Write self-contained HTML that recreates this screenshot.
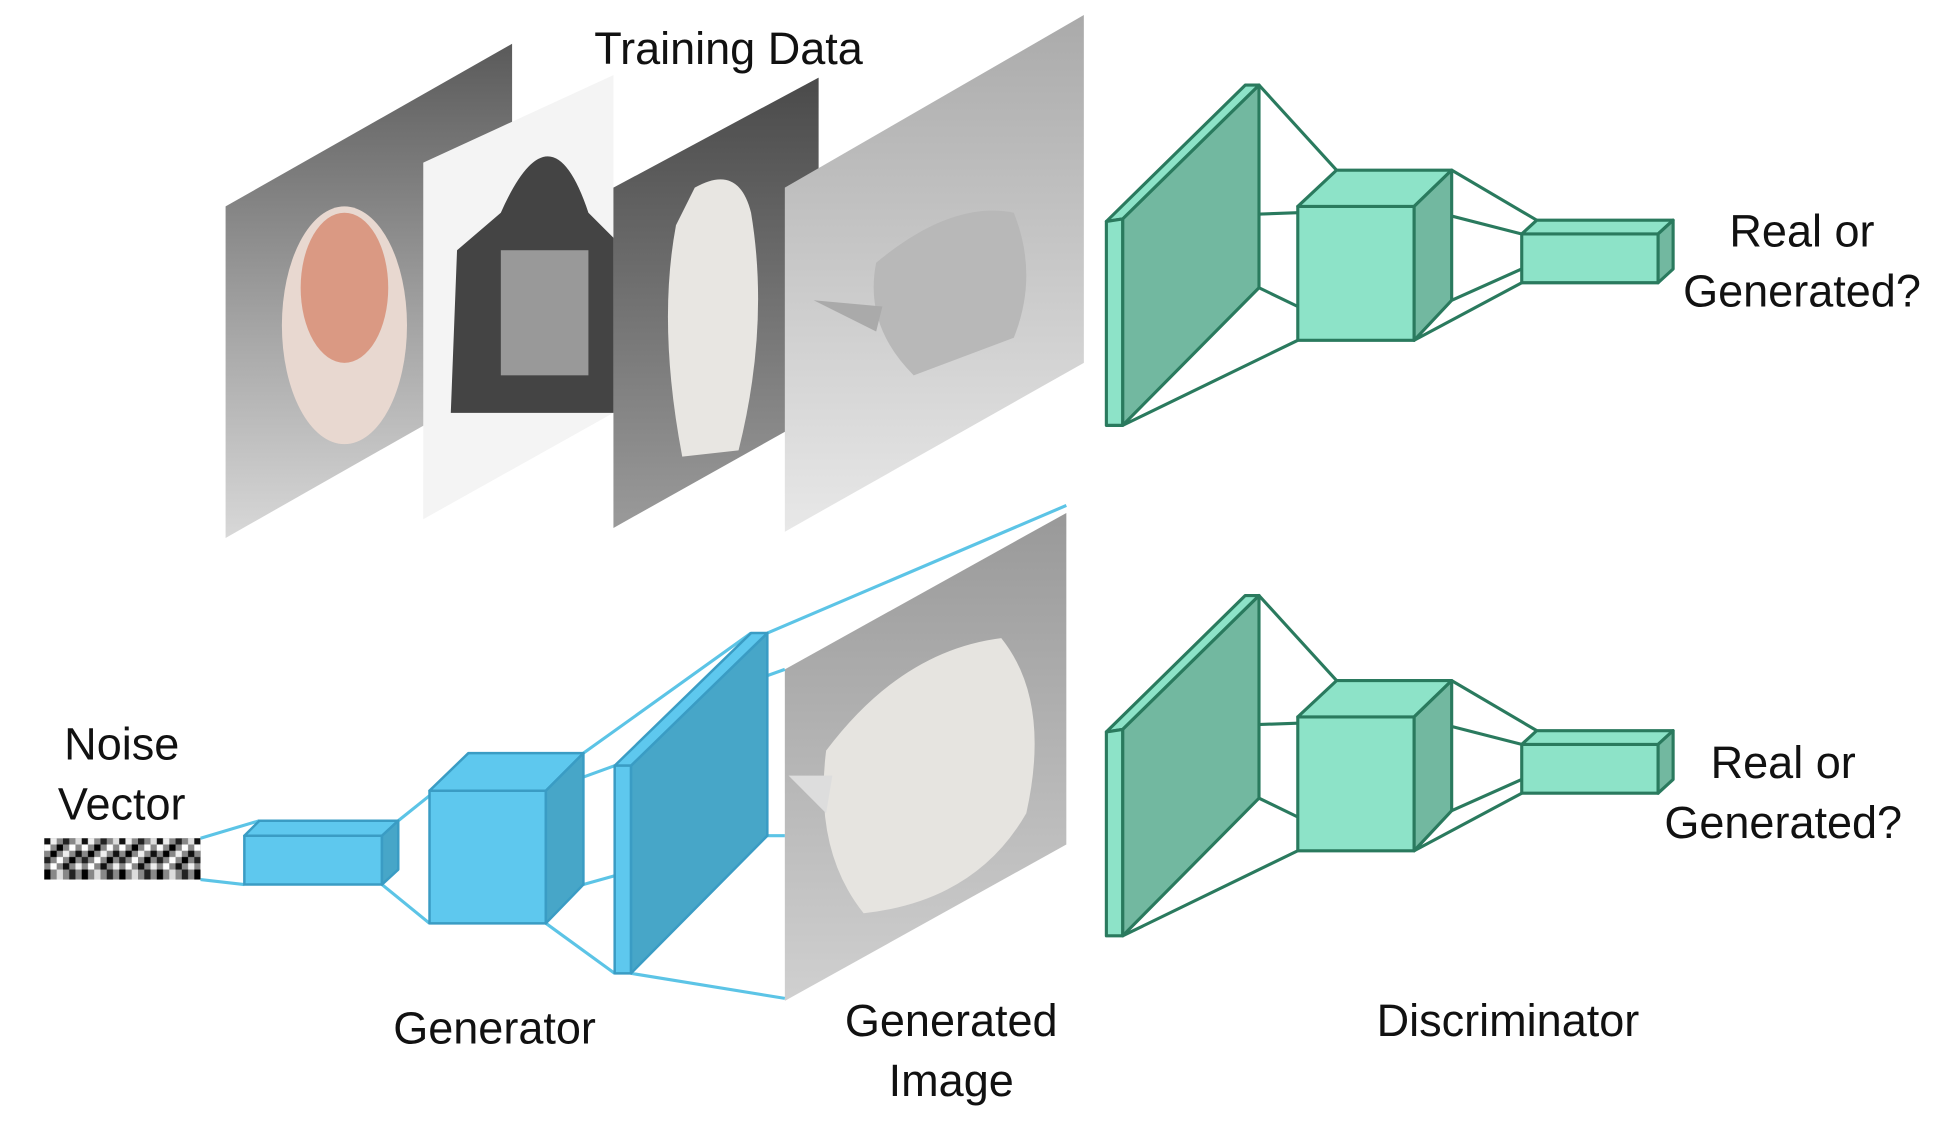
<!DOCTYPE html>
<html><head><meta charset="utf-8"><style>
html,body{margin:0;padding:0;background:#fff;}
svg{display:block;}
text{font-family:"Liberation Sans",sans-serif;font-size:36px;fill:#111;text-anchor:middle;}
</style></head><body>
<svg width="1945" height="1131" viewBox="0 0 1554 904" xmlns="http://www.w3.org/2000/svg">
<defs>
<linearGradient id="g1" x1="0" y1="0" x2="0" y2="1"><stop offset="0" stop-color="#5a5a5a"/><stop offset="0.6" stop-color="#a8a8a8"/><stop offset="1" stop-color="#d8d8d8"/></linearGradient>
<linearGradient id="g3" x1="0" y1="0" x2="0" y2="1"><stop offset="0" stop-color="#4a4a4a"/><stop offset="1" stop-color="#9a9a9a"/></linearGradient>
<linearGradient id="g4" x1="0" y1="0" x2="0" y2="1"><stop offset="0" stop-color="#aaaaaa"/><stop offset="1" stop-color="#e8e8e8"/></linearGradient>
<linearGradient id="g5" x1="0" y1="0" x2="0" y2="1"><stop offset="0" stop-color="#999"/><stop offset="1" stop-color="#d0d0d0"/></linearGradient>
<pattern id="np" x="35" y="670" width="30" height="33" patternUnits="userSpaceOnUse">
<rect width="30" height="33" fill="#888"/>
<rect x="0" y="0" width="5" height="5" fill="#111"/><rect x="5" y="0" width="5" height="5" fill="#eee"/><rect x="15" y="0" width="5" height="5" fill="#222"/><rect x="25" y="0" width="5" height="5" fill="#ddd"/>
<rect x="0" y="5" width="5" height="5" fill="#fff"/><rect x="10" y="5" width="5" height="5" fill="#000"/><rect x="20" y="5" width="5" height="5" fill="#fff"/>
<rect x="5" y="10" width="5" height="5" fill="#000"/><rect x="15" y="10" width="5" height="5" fill="#eee"/><rect x="25" y="10" width="5" height="5" fill="#111"/>
<rect x="0" y="15" width="5" height="5" fill="#222"/><rect x="10" y="15" width="5" height="5" fill="#fff"/><rect x="20" y="15" width="5" height="5" fill="#000"/>
<rect x="5" y="20" width="5" height="5" fill="#fff"/><rect x="15" y="20" width="5" height="5" fill="#111"/><rect x="25" y="20" width="5" height="5" fill="#eee"/>
<rect x="0" y="25" width="5" height="8" fill="#000"/><rect x="10" y="25" width="5" height="8" fill="#ddd"/><rect x="20" y="25" width="5" height="8" fill="#222"/>
</pattern>
</defs>
<text x="582" y="51">Training Data</text>
<polygon points="180,165 409,35 409,300 180,430" fill="url(#g1)"/>
<ellipse cx="275" cy="260" rx="50" ry="95" fill="#e8d8d0"/>
<ellipse cx="275" cy="230" rx="35" ry="60" fill="#d07050" opacity="0.6"/>
<polygon points="338,130 490,60 490,330 338,415" fill="#f4f4f4"/>
<path d="M400,170 Q440,80 470,170 L490,190 L490,330 L360,330 L365,200 Z" fill="#444"/>
<rect x="400" y="200" width="70" height="100" fill="#999"/>
<polygon points="490,150 654,62 654,330 490,422" fill="url(#g3)"/>
<path d="M555,150 Q590,130 600,170 Q615,260 590,360 L545,365 Q525,260 540,180 Z" fill="#e8e6e2"/>
<polygon points="627,150 866,12 866,290 627,425" fill="url(#g4)"/>
<path d="M700,210 Q760,160 810,170 Q830,220 810,270 L730,300 Q690,260 700,210 Z" fill="#b8b8b8"/>
<path d="M650,240 L705,245 L700,265 Z" fill="#aaa"/>

<g stroke="#2a7a5e" stroke-width="2.5" stroke-linejoin="round">
<line x1="1006" y1="68" x2="1068" y2="136"/><line x1="897" y1="175" x2="1037" y2="170"/>
<line x1="1006" y1="230" x2="1037" y2="245"/><line x1="897" y1="340" x2="1037" y2="272"/>
<line x1="1160" y1="136" x2="1228" y2="176"/><line x1="1130" y1="165" x2="1216" y2="187"/>
<line x1="1160" y1="240" x2="1216" y2="215"/><line x1="1130" y1="272" x2="1216" y2="226"/>
<polygon points="897,175 1006,68 1006,230 897,340" fill="#72b8a0"/>
<polygon points="884,177 995,68 1006,68 897,175" fill="#8de3c8"/>
<polygon points="884,177 897,175 897,340 884,340" fill="#8de3c8"/>
<polygon points="1037,165 1130,165 1130,272 1037,272" fill="#8de3c8"/>
<polygon points="1037,165 1068,136 1160,136 1130,165" fill="#8de3c8"/>
<polygon points="1130,165 1160,136 1160,240 1130,272" fill="#72b8a0"/>
<polygon points="1216,187 1325,187 1325,226 1216,226" fill="#8de3c8"/>
<polygon points="1216,187 1228,176 1337,176 1325,187" fill="#8de3c8"/>
<polygon points="1325,187 1337,176 1337,215 1325,226" fill="#72b8a0"/>
</g>
<text x="1440" y="197">Real or</text>
<text x="1440" y="245">Generated?</text>

<g transform="translate(0,408)" stroke="#2a7a5e" stroke-width="2.5" stroke-linejoin="round">
<line x1="1006" y1="68" x2="1068" y2="136"/><line x1="897" y1="175" x2="1037" y2="170"/>
<line x1="1006" y1="230" x2="1037" y2="245"/><line x1="897" y1="340" x2="1037" y2="272"/>
<line x1="1160" y1="136" x2="1228" y2="176"/><line x1="1130" y1="165" x2="1216" y2="187"/>
<line x1="1160" y1="240" x2="1216" y2="215"/><line x1="1130" y1="272" x2="1216" y2="226"/>
<polygon points="897,175 1006,68 1006,230 897,340" fill="#72b8a0"/>
<polygon points="884,177 995,68 1006,68 897,175" fill="#8de3c8"/>
<polygon points="884,177 897,175 897,340 884,340" fill="#8de3c8"/>
<polygon points="1037,165 1130,165 1130,272 1037,272" fill="#8de3c8"/>
<polygon points="1037,165 1068,136 1160,136 1130,165" fill="#8de3c8"/>
<polygon points="1130,165 1160,136 1160,240 1130,272" fill="#72b8a0"/>
<polygon points="1216,187 1325,187 1325,226 1216,226" fill="#8de3c8"/>
<polygon points="1216,187 1228,176 1337,176 1325,187" fill="#8de3c8"/>
<polygon points="1325,187 1337,176 1337,215 1325,226" fill="#72b8a0"/>
</g>
<text x="1425" y="622">Real or</text>
<text x="1425" y="670">Generated?</text>

<polygon points="627,535 852,410 852,675 627,800" fill="url(#g5)"/>
<path d="M660,600 Q720,520 800,510 Q840,560 820,650 Q780,720 690,730 Q650,680 660,600 Z" fill="#e6e4e0"/>
<path d="M630,620 L665,620 L660,650 Z" fill="#ddd"/>

<g stroke="#5cc4e6" stroke-width="2.5" stroke-linejoin="round">
<line x1="160" y1="670" x2="207" y2="656"/><line x1="160" y1="703" x2="195" y2="707"/>
<line x1="318" y1="656" x2="343" y2="636"/><line x1="305" y1="707" x2="343" y2="738"/>
<line x1="466" y1="602" x2="600" y2="506"/><line x1="436" y1="632" x2="491" y2="612"/>
<line x1="466" y1="707" x2="491" y2="700"/><line x1="436" y1="738" x2="491" y2="778"/>
<line x1="613" y1="506" x2="852" y2="404"/><line x1="613" y1="540" x2="627" y2="535"/>
<line x1="613" y1="668" x2="627" y2="668"/><line x1="504" y1="778" x2="627" y2="798"/>
</g>
<g stroke="#3a9cc4" stroke-width="2" stroke-linejoin="round">
<polygon points="195,668 305,668 305,707 195,707" fill="#5ec8ee"/>
<polygon points="195,668 207,656 318,656 305,668" fill="#5ec8ee"/>
<polygon points="305,668 318,656 318,695 305,707" fill="#47a6c8"/>
<polygon points="343,632 436,632 436,738 343,738" fill="#5ec8ee"/>
<polygon points="343,632 374,602 466,602 436,632" fill="#5ec8ee"/>
<polygon points="436,632 466,602 466,707 436,738" fill="#47a6c8"/>
<polygon points="504,612 613,506 613,668 504,778" fill="#47a6c8"/>
<polygon points="491,612 600,506 613,506 504,612" fill="#5ec8ee"/>
<polygon points="491,612 504,612 504,778 491,778" fill="#5ec8ee"/>
</g>
<rect x="35" y="670" width="125" height="33" fill="url(#np)"/>
<text x="97" y="607">Noise</text>
<text x="97" y="655">Vector</text>
<text x="395" y="834">Generator</text>
<text x="760" y="828">Generated</text>
<text x="760" y="876">Image</text>
<text x="1205" y="828">Discriminator</text>
</svg>
</body></html>
